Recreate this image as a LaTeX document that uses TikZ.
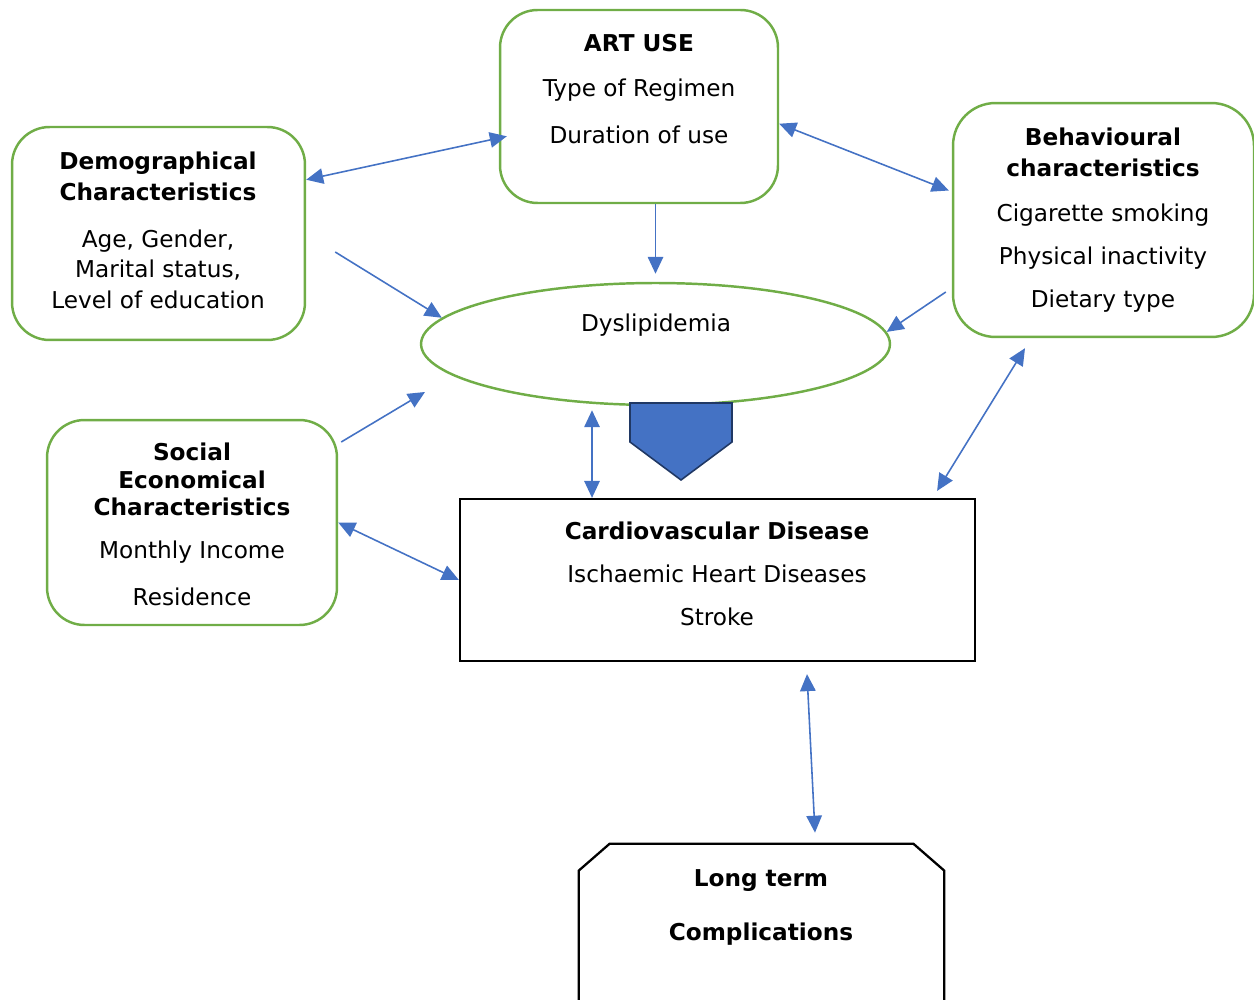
\documentclass[tikz,border=0pt]{standalone}
\usepackage{fontspec}
\setmainfont{DejaVu Sans}
\usepackage{xcolor}
\usetikzlibrary{arrows.meta,shapes.geometric}
\definecolor{boxgreen}{HTML}{70AD47}
\definecolor{arrowblue}{HTML}{4472C4}
\definecolor{navyline}{HTML}{203864}

\begin{document}
\begin{tikzpicture}[x=0.02cm, y=-0.02cm,
    font=\fontsize{13.2}{17.6}\selectfont,
    gbox/.style={draw=boxgreen, line width=1.4pt, rounded corners=0.75cm, inner sep=0pt},
    txt/.style={align=center, inner sep=0pt},
    tip/.style={-{Triangle[length=3.4mm,width=3.1mm]}, draw=arrowblue, line width=0.9pt},
    bitip/.style={{Triangle[length=3.4mm,width=3.1mm]}-{Triangle[length=3.4mm,width=3.1mm]}, draw=arrowblue, line width=0.9pt}]
    \useasboundingbox (0,0) rectangle (1254,1000);

    % boxes
    \node[gbox, minimum width=5.56cm, minimum height=3.86cm] (art) at (639,106.5) {};
    \node[gbox, minimum width=5.86cm, minimum height=4.26cm] (demo) at (158.5,233.5) {};
    \node[gbox, rounded corners=0.85cm, minimum width=6.02cm, minimum height=4.68cm] (behav) at (1103.5,220) {};
    \node[gbox, minimum width=5.8cm, minimum height=4.1cm] (social) at (192,522.5) {};
    \node[ellipse, draw=boxgreen, line width=1.4pt, inner sep=0pt, minimum width=9.38cm, minimum height=2.44cm] (dys) at (655.5,344) {};
    \node[draw, line width=1.3pt, inner sep=0pt, minimum width=10.3cm, minimum height=3.24cm] (cvd) at (717.5,580) {};
    \node[inner sep=0pt, minimum width=7.3cm, minimum height=6cm] (lterm) at (761.5,994) {};
    \draw[line width=1.3pt] (lterm.south west) -- ([yshift=-0.54cm]lterm.north west) -- ([xshift=0.62cm]lterm.north west)
      -- ([xshift=-0.62cm]lterm.north east) -- ([yshift=-0.54cm]lterm.north east) -- (lterm.south east);

    \draw[fill=arrowblue, draw=navyline, line width=0.9pt] (630,403) -- (732,403) -- (732,442) -- (681,480) -- (630,442) -- cycle;

    % texts
    \node[txt] (arttxt) at (639,89) {\textbf{ART USE}\\[8.5pt] Type of Regimen\\[9pt] Duration of use};
    \node[txt] (demotxt) at (158,230.5) {\textbf{Demographical}\\ \textbf{Characteristics}\\[9pt] Age, Gender,\\ Marital status,\\ Level of education};
    \node[txt] (behavtxt) at (1103,220) {\textbf{Behavioural}\\ \textbf{characteristics}\\[8.5pt] Cigarette smoking\\[6.8pt] Physical inactivity\\[6.8pt] Dietary type};
    \node[txt] (socialtxt) at (192,524.5) {\textbf{Social}\\[-2pt] \textbf{Economical}\\[-2pt] \textbf{Characteristics}\\[6.8pt] Monthly Income\\[9pt] Residence};
    \node[txt] (dystxt) at (656,325) {Dyslipidemia};
    \node[txt] (cvdtxt) at (717,574) {\textbf{Cardiovascular Disease}\\[6.8pt] Ischaemic Heart Diseases\\[6.8pt] Stroke};
    \node[txt] (ltermtxt) at (761,907.5) {\textbf{Long term}\\[13.6pt] \textbf{Complications}};

    % arrows
    \draw[bitip] (demo.20) -- ([xshift=1.6mm]art.192);
    \draw[tip] (art.south -| dys.north) -- ([yshift=1.6mm]dys.north);
    \draw[bitip] (art.-7) -- ([xshift=-0.6mm]behav.169);
    \draw[tip] ([shift={(29,18.5)}]demo.east) -- (dys.173);
    \draw[tip] ([shift={(-6,72)}]behav.west) -- (dys.3);
    \draw[tip] ([shift={(3,-80.5)}]social.east) -- ([shift={(-230.5,48)}]dys.center);
    \draw[bitip] ([shift={(-63.5,4)}]dys.south) -- ([xshift=-1.27cm]dys.south |- cvd.north);
    \draw[bitip] (social.east) -- (cvd.west);
    \draw[bitip] ([shift={(-78.5,10)}]behav.south) -- ([shift={(-39,-7)}]cvd.north east);
    \draw[bitip] ([shift={(89.5,12)}]cvd.south) -- ([shift={(53.5,-11)}]lterm.north);
\end{tikzpicture}
\end{document}
